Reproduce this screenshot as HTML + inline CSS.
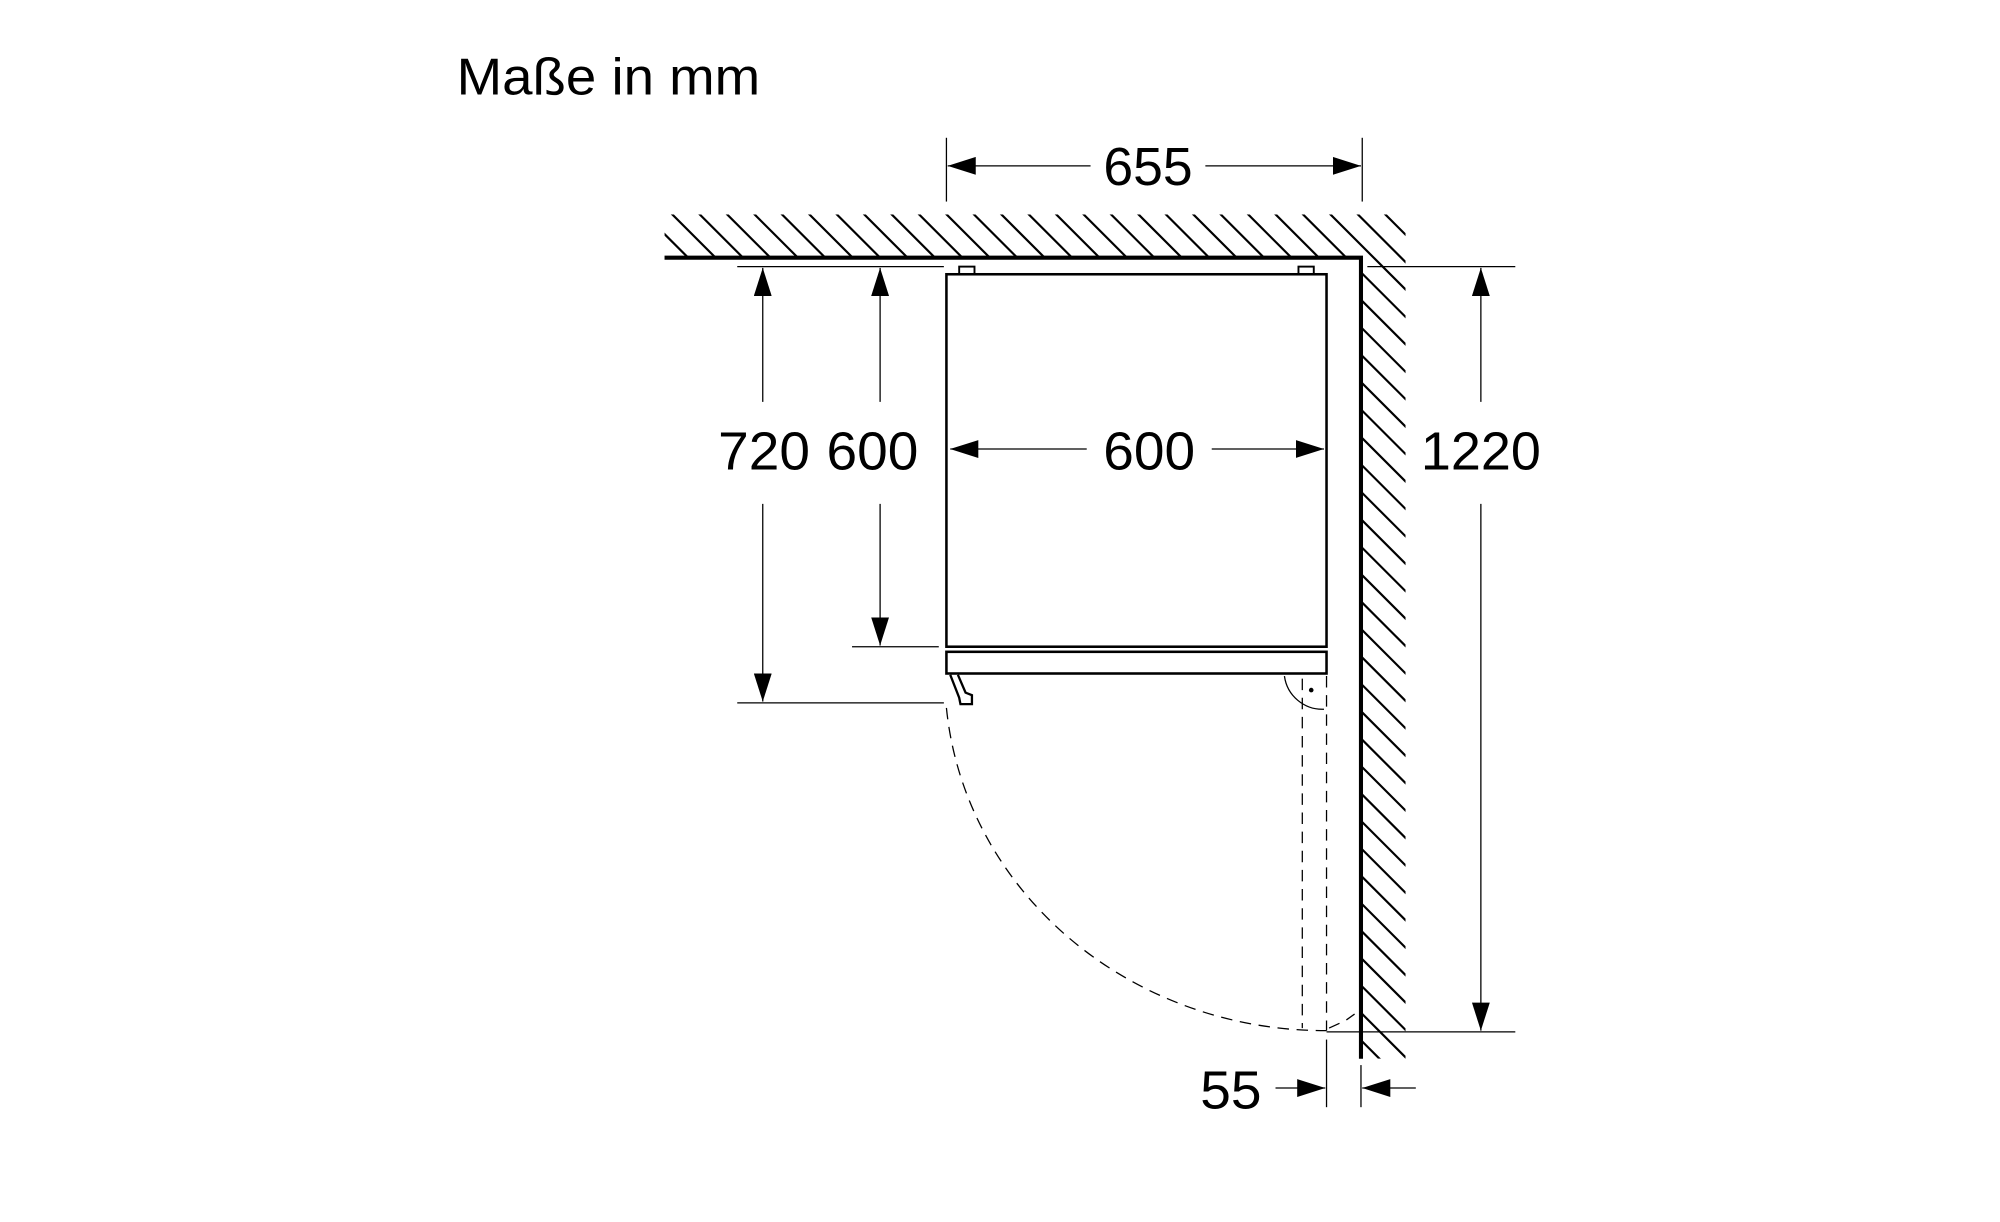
<!DOCTYPE html>
<html><head><meta charset="utf-8"><style>html,body{margin:0;padding:0;background:#fff}svg{display:block}</style></head>
<body>
<svg width="2000" height="1222" viewBox="0 0 1568 958" xmlns="http://www.w3.org/2000/svg" font-family="'Liberation Sans', sans-serif">
<defs>
<clipPath id="h"><polygon points="521,168 1102,168 1102,830 1068,830 1068,202 521,202"/></clipPath>
<marker id="a" viewBox="0 0 22 14" refX="22" refY="7" markerWidth="22" markerHeight="14" markerUnits="userSpaceOnUse" orient="auto"><path d="M0,0 L22,7 L0,14 Z" fill="#000"/></marker>
</defs>
<rect width="1568" height="958" fill="#fff"/>
<text x="358" y="74" font-size="41" textLength="238" lengthAdjust="spacingAndGlyphs">Maße in mm</text>
<g clip-path="url(#h)" stroke="#000" stroke-width="1.7">
<line x1="380" y1="150" x2="1080" y2="850"/>
<line x1="401.5" y1="150" x2="1101.5" y2="850"/>
<line x1="423" y1="150" x2="1123" y2="850"/>
<line x1="444.5" y1="150" x2="1144.5" y2="850"/>
<line x1="466" y1="150" x2="1166" y2="850"/>
<line x1="487.5" y1="150" x2="1187.5" y2="850"/>
<line x1="509" y1="150" x2="1209" y2="850"/>
<line x1="530.5" y1="150" x2="1230.5" y2="850"/>
<line x1="552" y1="150" x2="1252" y2="850"/>
<line x1="573.5" y1="150" x2="1273.5" y2="850"/>
<line x1="595" y1="150" x2="1295" y2="850"/>
<line x1="616.5" y1="150" x2="1316.5" y2="850"/>
<line x1="638" y1="150" x2="1338" y2="850"/>
<line x1="659.5" y1="150" x2="1359.5" y2="850"/>
<line x1="681" y1="150" x2="1381" y2="850"/>
<line x1="702.5" y1="150" x2="1402.5" y2="850"/>
<line x1="724" y1="150" x2="1424" y2="850"/>
<line x1="745.5" y1="150" x2="1445.5" y2="850"/>
<line x1="767" y1="150" x2="1467" y2="850"/>
<line x1="788.5" y1="150" x2="1488.5" y2="850"/>
<line x1="810" y1="150" x2="1510" y2="850"/>
<line x1="831.5" y1="150" x2="1531.5" y2="850"/>
<line x1="853" y1="150" x2="1553" y2="850"/>
<line x1="874.5" y1="150" x2="1574.5" y2="850"/>
<line x1="896" y1="150" x2="1596" y2="850"/>
<line x1="917.5" y1="150" x2="1617.5" y2="850"/>
<line x1="939" y1="150" x2="1639" y2="850"/>
<line x1="960.5" y1="150" x2="1660.5" y2="850"/>
<line x1="982" y1="150" x2="1682" y2="850"/>
<line x1="1003.5" y1="150" x2="1703.5" y2="850"/>
<line x1="1025" y1="150" x2="1725" y2="850"/>
<line x1="1046.5" y1="150" x2="1746.5" y2="850"/>
<line x1="1068" y1="150" x2="1768" y2="850"/>
<line x1="1089.5" y1="150" x2="1789.5" y2="850"/>
</g>
<path d="M521,202 L1067,202 L1067,830" fill="none" stroke="#000" stroke-width="3.2"/>
<g stroke="#000" stroke-width="1" fill="none">
<line x1="742" y1="108" x2="742" y2="158"/><line x1="1068" y1="108" x2="1068" y2="158"/>
<line x1="855" y1="130" x2="743" y2="130" marker-end="url(#a)"/>
<line x1="945" y1="130" x2="1067" y2="130" marker-end="url(#a)"/>
<line x1="578" y1="209" x2="740" y2="209"/>
<line x1="1072" y1="209" x2="1188" y2="209"/>
<line x1="578" y1="551" x2="740" y2="551"/>
<line x1="668" y1="507" x2="736" y2="507"/>
<line x1="1040" y1="809" x2="1188" y2="809"/>
<line x1="598" y1="315" x2="598" y2="210" marker-end="url(#a)"/>
<line x1="598" y1="395" x2="598" y2="550" marker-end="url(#a)"/>
<line x1="690" y1="315" x2="690" y2="210" marker-end="url(#a)"/>
<line x1="690" y1="395" x2="690" y2="506" marker-end="url(#a)"/>
<line x1="852" y1="352" x2="745" y2="352" marker-end="url(#a)"/>
<line x1="950" y1="352" x2="1038" y2="352" marker-end="url(#a)"/>
<line x1="1161" y1="315" x2="1161" y2="210" marker-end="url(#a)"/>
<line x1="1161" y1="395" x2="1161" y2="808" marker-end="url(#a)"/>
<line x1="1040" y1="815" x2="1040" y2="868"/><line x1="1067" y1="835" x2="1067" y2="868"/>
<line x1="1000" y1="853" x2="1039" y2="853" marker-end="url(#a)"/>
<line x1="1110" y1="853" x2="1068" y2="853" marker-end="url(#a)"/>
</g>
<g stroke="#000" fill="none" stroke-width="2">
<rect x="742" y="215" width="298" height="292"/>
<rect x="752" y="209" width="12" height="6" stroke-width="1.5"/>
<rect x="1018" y="209" width="12" height="6" stroke-width="1.5"/>
<rect x="742" y="511" width="298" height="17"/>
<path d="M745,529 L752,547 L753,552 L762,552 L762,545 L757,543 L751,529" stroke-width="1.8"/>
</g>
<g stroke="#000" fill="none" stroke-width="1" stroke-dasharray="9,6">
<path d="M742,555 A 298 279 0 0 0 1040 808"/>
<line x1="1021" y1="532" x2="1021" y2="806"/>
<line x1="1040" y1="530" x2="1040" y2="808"/>
<path d="M1042,806 L1055,800 L1062,795"/>
</g>
<path d="M1007,530 A 30 30 0 0 0 1038 556" stroke="#000" fill="none" stroke-width="1"/>
<circle cx="1028" cy="541" r="1.8" fill="#000"/>
<g font-size="42" text-anchor="middle">
<text x="900" y="145" textLength="70" lengthAdjust="spacingAndGlyphs">655</text>
<text x="599" y="368" textLength="72" lengthAdjust="spacingAndGlyphs">720</text>
<text x="684" y="368" textLength="72" lengthAdjust="spacingAndGlyphs">600</text>
<text x="901" y="368" textLength="72" lengthAdjust="spacingAndGlyphs">600</text>
<text x="1161" y="368" textLength="94" lengthAdjust="spacingAndGlyphs">1220</text>
<text x="965" y="869" textLength="48" lengthAdjust="spacingAndGlyphs">55</text>
</g>
</svg>
</body></html>
